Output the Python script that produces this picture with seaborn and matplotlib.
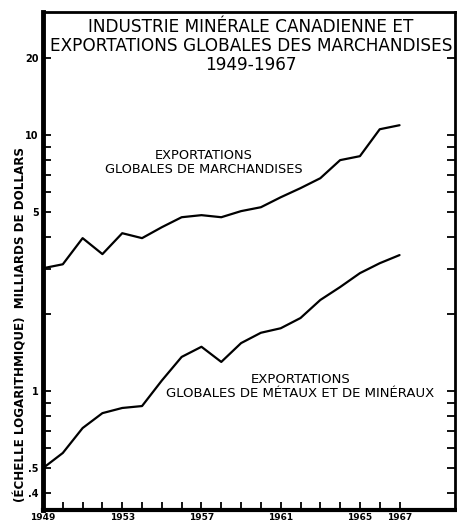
import numpy as np
import pandas as pd
import matplotlib
matplotlib.use("Agg")
import matplotlib.pyplot as plt
import seaborn as sns

years = list(range(1949, 1968))
marchandises = [3.02, 3.13, 3.96, 3.43, 4.14, 3.96, 4.37, 4.78, 4.87, 4.78,
                5.05, 5.23, 5.72, 6.21, 6.79, 7.99, 8.28, 10.55, 10.94]
metaux_mineraux = [0.50, 0.573, 0.717, 0.82, 0.859, 0.874, 1.10, 1.36, 1.49, 1.30,
                   1.54, 1.69, 1.76, 1.93, 2.27, 2.55, 2.89, 3.16, 3.40]
series_names = ["EXPORTATIONS\nGLOBALES DE MARCHANDISES",
                "EXPORTATIONS\nGLOBALES DE MÉTAUX ET DE MINÉRAUX"]
year_ticks = [1949, 1953, 1957, 1961, 1965, 1967]
y_major = [0.4, 0.5, 1, 5, 10, 20]
y_major_labels = [".4", ".5", "1", "5", "10", "20"]
y_minor = [0.6, 0.7, 0.8, 0.9, 2, 3, 4, 6, 7, 8, 9]

df = pd.DataFrame({
    "annee": years * 2,
    "valeur": marchandises + metaux_mineraux,
    "serie": [series_names[0]] * len(years) + [series_names[1]] * len(years),
})

sns.set_style("white")
plt.rcParams["font.family"] = ["DejaVu Sans"]
for k in ["text.color", "axes.labelcolor", "xtick.color", "ytick.color"]:
    plt.rcParams[k] = "black"

fig = plt.figure(figsize=(4.57, 5.24), dpi=100)
ax = fig.add_axes([43 / 457, 1 - 510 / 524, (455 - 43) / 457, (510 - 12) / 524])

sns.lineplot(data=df, x="annee", y="valeur", hue="serie",
             palette=["black", "black"], linewidth=1.6, legend=False, ax=ax)

ax.set_yscale("log")
ax.set_ylim(0.343, 30.3)
ax.set_xlim(1949, 1969.8)

ax.set_yticks(y_major)
ax.set_yticklabels(y_major_labels, fontsize=7, fontweight="bold")
ax.set_yticks(y_minor, minor=True)
ax.yaxis.set_minor_formatter(matplotlib.ticker.NullFormatter())
ax.set_xticks(years, minor=False)
ax.set_xticklabels([str(y) if y in year_ticks else "" for y in years],
                   fontsize=6.5, fontweight="bold")

ax.tick_params(axis="both", which="both", direction="in", length=6, width=1.3,
               color="black", left=True, right=True, bottom=True, top=False, pad=2)
ax.tick_params(axis="y", which="major", pad=3)

for side in ["top", "right", "bottom"]:
    ax.spines[side].set_visible(True)
    ax.spines[side].set_color("black")
    ax.spines[side].set_linewidth(2)
ax.spines["left"].set_linewidth(3.5)
ax.spines["left"].set_color("black")
ax.spines["bottom"].set_linewidth(3)

ax.set_xlabel("")
ax.set_ylabel("(ÉCHELLE LOGARITHMIQUE)  MILLIARDS DE DOLLARS", fontsize=8.6,
              fontweight="bold")
ax.yaxis.set_label_coords(-0.037, 0.373)

ax.text(0.505, 0.988, "INDUSTRIE MINÉRALE CANADIENNE ET\nEXPORTATIONS GLOBALES DES MARCHANDISES\n1949-1967",
        transform=ax.transAxes, ha="center", va="top", fontsize=12.2, linespacing=1.08)

ax.text(1957.1, 7.85, series_names[0], ha="center", va="center", fontsize=9.3,
        linespacing=1.1)
ax.text(1962.0, 1.046, series_names[1], ha="center", va="center", fontsize=9.5,
        linespacing=1.1)

fig.savefig("out.png", dpi=100, facecolor="white")
